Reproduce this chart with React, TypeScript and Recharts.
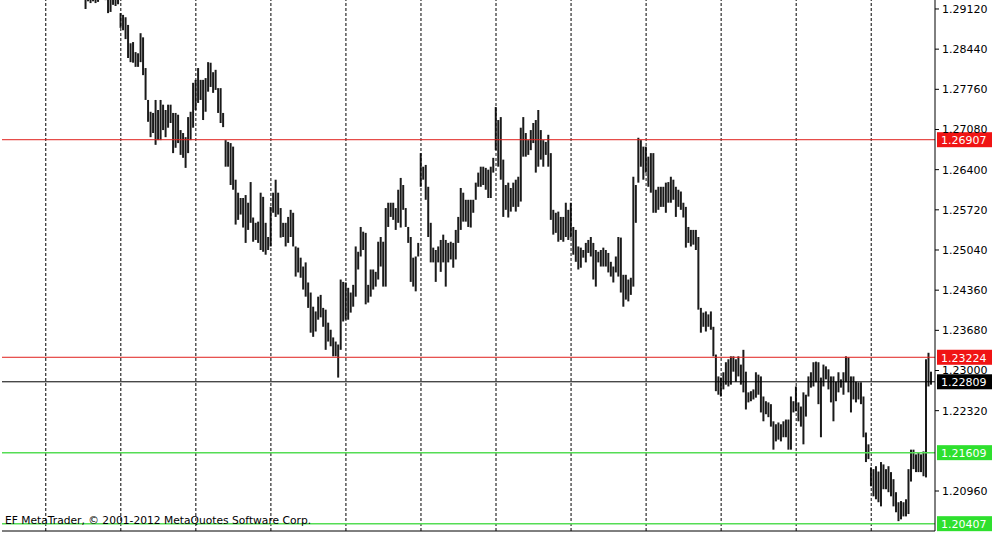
import React from "react";
import { ComposedChart, Bar, XAxis, YAxis, ReferenceLine } from "recharts";

// slot layout: 373 bar slots across the plot, first visible bar sits in slot 33
const slotCount = 373;
const firstBar = 33;

// bar highs, one per slot from slot 33 on
const highs = [
  1.2961, 1.2952, 1.2961, 1.2957, 1.2952, 1.2961, 1.2969, 1.2964, 1.2952, 1.2944,
  1.2941, 1.2947, 1.2944, 1.2941, 1.2905, 1.2902, 1.2898, 1.2885, 1.2854, 1.2856,
  1.2839, 1.2837, 1.2871, 1.2864, 1.2812, 1.2758, 1.2738, 1.2736, 1.2758, 1.2741,
  1.2758, 1.2750, 1.2741, 1.2750, 1.2750, 1.2736, 1.2736, 1.2733, 1.2707, 1.2702,
  1.2695, 1.2729, 1.2738, 1.2787, 1.2792, 1.2812, 1.2792, 1.2792, 1.2795, 1.2822,
  1.2821, 1.2805, 1.2809, 1.2778, 1.2778, 1.2736, 1.2690, 1.2687, 1.2685, 1.2679,
  1.2623, 1.2601, 1.2592, 1.2592, 1.2597, 1.2584, 1.2619, 1.2559, 1.2550, 1.2552,
  1.2601, 1.2594, 1.2550, 1.2526, 1.2577, 1.2601, 1.2623, 1.2601, 1.2575, 1.2550,
  1.2550, 1.2560, 1.2572, 1.2567, 1.2510, 1.2508, 1.2491, 1.2476, 1.2483, 1.2449,
  1.2432, 1.2408, 1.2400, 1.2425, 1.2428, 1.2406, 1.2403, 1.2381, 1.2369, 1.2356,
  1.2349, 1.2344, 1.2454, 1.2450, 1.2449, 1.2440, 1.2432, 1.2445, 1.2510, 1.2501,
  1.2543, 1.2535, 1.2533, 1.2445, 1.2471, 1.2471, 1.2467, 1.2518, 1.2526, 1.2518,
  1.2575, 1.2584, 1.2584, 1.2584, 1.2575, 1.2606, 1.2626, 1.2614, 1.2575, 1.2543,
  1.2526, 1.2491, 1.2493, 1.2516, 1.2668, 1.2645, 1.2648, 1.2611, 1.2550, 1.2508,
  1.2504, 1.2510, 1.2521, 1.2530, 1.2521, 1.2516, 1.2518, 1.2516, 1.2538, 1.2560,
  1.2609, 1.2601, 1.2589, 1.2589, 1.2589, 1.2589, 1.2618, 1.2635, 1.2645, 1.2645,
  1.2643, 1.2640, 1.2645, 1.2660, 1.2746, 1.2724, 1.2729, 1.2657, 1.2614, 1.2618,
  1.2609, 1.2618, 1.2623, 1.2628, 1.2711, 1.2729, 1.2702, 1.2690, 1.2707, 1.2719,
  1.2724, 1.2741, 1.2707, 1.2690, 1.2687, 1.2699, 1.2668, 1.2572, 1.2567, 1.2569,
  1.2560, 1.2560, 1.2584, 1.2572, 1.2584, 1.2543, 1.2538, 1.2510, 1.2508, 1.2504,
  1.2516, 1.2521, 1.2526, 1.2516, 1.2504, 1.2501, 1.2504, 1.2508, 1.2504, 1.2499,
  1.2484, 1.2476, 1.2493, 1.2526, 1.2525, 1.2462, 1.2462, 1.2454, 1.2457, 1.2628,
  1.2614, 1.2694, 1.2690, 1.2679, 1.2679, 1.2662, 1.2668, 1.2668, 1.2606, 1.2611,
  1.2611, 1.2611, 1.2618, 1.2619, 1.2628, 1.2623, 1.2611, 1.2606, 1.2603, 1.2584,
  1.2577, 1.2543, 1.2538, 1.2538, 1.2538, 1.2526, 1.2406, 1.2398, 1.2400, 1.2395,
  1.2400, 1.2374, 1.2327, 1.2290, 1.2288, 1.2297, 1.2314, 1.2319, 1.2324, 1.2324,
  1.2319, 1.2324, 1.2310, 1.2335, 1.2298, 1.2263, 1.2265, 1.2268, 1.2297, 1.2293,
  1.2290, 1.2256, 1.2248, 1.2246, 1.2243, 1.2214, 1.2209, 1.2212, 1.2209, 1.2214,
  1.2217, 1.2217, 1.2256, 1.2248, 1.2273, 1.2246, 1.2239, 1.2263, 1.2259, 1.2290,
  1.2297, 1.2314, 1.2315, 1.2314, 1.2288, 1.2310, 1.2307, 1.2302, 1.2290, 1.2290,
  1.2281, 1.2297, 1.2285, 1.2297, 1.2324, 1.2322, 1.2290, 1.2290, 1.2281, 1.2280,
  1.2280, 1.2256, 1.2195, 1.2175, 1.2136, 1.2133, 1.2138, 1.2129, 1.2145, 1.2141,
  1.2133, 1.2138, 1.2128, 1.2116, 1.2094, 1.2077, 1.2079, 1.2077, 1.2082, 1.2133,
  1.2166, 1.2166, 1.2158, 1.2161, 1.2158, 1.2163, 1.2319, 1.2330, 1.2298,
];

// bar lows, same slots
const lows = [
  1.2912, 1.2925, 1.2922, 1.2925, 1.2922, 1.2924, 1.2932, 1.2930, 1.2927, 1.2905,
  1.2907, 1.2919, 1.2917, 1.2920, 1.2880, 1.2876, 1.2861, 1.2829, 1.2822, 1.2821,
  1.2814, 1.2814, 1.2822, 1.2800, 1.2758, 1.2721, 1.2695, 1.2702, 1.2682, 1.2690,
  1.2690, 1.2707, 1.2695, 1.2711, 1.2719, 1.2668, 1.2677, 1.2685, 1.2665, 1.2660,
  1.2643, 1.2668, 1.2690, 1.2711, 1.2741, 1.2753, 1.2758, 1.2724, 1.2738, 1.2772,
  1.2780, 1.2770, 1.2775, 1.2736, 1.2719, 1.2712, 1.2645, 1.2645, 1.2614, 1.2606,
  1.2547, 1.2555, 1.2564, 1.2542, 1.2516, 1.2538, 1.2550, 1.2518, 1.2521, 1.2516,
  1.2504, 1.2501, 1.2496, 1.2504, 1.2510, 1.2567, 1.2560, 1.2564, 1.2525, 1.2526,
  1.2510, 1.2516, 1.2526, 1.2510, 1.2459, 1.2466, 1.2457, 1.2437, 1.2425, 1.2406,
  1.2364, 1.2357, 1.2366, 1.2386, 1.2390, 1.2374, 1.2335, 1.2349, 1.2341, 1.2324,
  1.2324, 1.2288, 1.2335, 1.2383, 1.2386, 1.2386, 1.2398, 1.2408, 1.2425, 1.2471,
  1.2493, 1.2504, 1.2412, 1.2415, 1.2425, 1.2437, 1.2442, 1.2454, 1.2476, 1.2442,
  1.2442, 1.2543, 1.2560, 1.2555, 1.2538, 1.2550, 1.2542, 1.2572, 1.2543, 1.2516,
  1.2450, 1.2442, 1.2434, 1.2493, 1.2611, 1.2623, 1.2589, 1.2526, 1.2483, 1.2483,
  1.2450, 1.2483, 1.2467, 1.2483, 1.2442, 1.2483, 1.2488, 1.2474, 1.2488, 1.2516,
  1.2538, 1.2552, 1.2552, 1.2543, 1.2542, 1.2567, 1.2589, 1.2611, 1.2611, 1.2614,
  1.2606, 1.2592, 1.2592, 1.2635, 1.2673, 1.2645, 1.2623, 1.2560, 1.2572, 1.2559,
  1.2569, 1.2577, 1.2569, 1.2577, 1.2586, 1.2662, 1.2662, 1.2665, 1.2673, 1.2685,
  1.2635, 1.2645, 1.2657, 1.2645, 1.2665, 1.2645, 1.2555, 1.2530, 1.2533, 1.2518,
  1.2521, 1.2518, 1.2526, 1.2521, 1.2525, 1.2496, 1.2484, 1.2471, 1.2474, 1.2491,
  1.2483, 1.2499, 1.2493, 1.2454, 1.2442, 1.2483, 1.2476, 1.2476, 1.2476, 1.2466,
  1.2459, 1.2449, 1.2466, 1.2459, 1.2432, 1.2408, 1.2420, 1.2417, 1.2428, 1.2442,
  1.2550, 1.2618, 1.2645, 1.2623, 1.2635, 1.2611, 1.2601, 1.2567, 1.2567, 1.2572,
  1.2577, 1.2577, 1.2567, 1.2584, 1.2584, 1.2589, 1.2560, 1.2577, 1.2572, 1.2559,
  1.2508, 1.2516, 1.2510, 1.2513, 1.2504, 1.2403, 1.2364, 1.2374, 1.2366, 1.2374,
  1.2369, 1.2324, 1.2265, 1.2259, 1.2256, 1.2268, 1.2276, 1.2273, 1.2276, 1.2298,
  1.2281, 1.2290, 1.2276, 1.2263, 1.2234, 1.2246, 1.2248, 1.2251, 1.2254, 1.2259,
  1.2229, 1.2214, 1.2226, 1.2221, 1.2205, 1.2166, 1.2180, 1.2183, 1.2180, 1.2187,
  1.2187, 1.2166, 1.2166, 1.2229, 1.2231, 1.2214, 1.2205, 1.2175, 1.2222, 1.2256,
  1.2271, 1.2273, 1.2280, 1.2243, 1.2187, 1.2273, 1.2285, 1.2268, 1.2246, 1.2214,
  1.2248, 1.2263, 1.2271, 1.2259, 1.2280, 1.2263, 1.2229, 1.2251, 1.2246, 1.2251,
  1.2243, 1.2187, 1.2145, 1.2150, 1.2104, 1.2087, 1.2082, 1.2077, 1.2070, 1.2099,
  1.2099, 1.2094, 1.2087, 1.2070, 1.2060, 1.2045, 1.2048, 1.2053, 1.2053, 1.2057,
  1.2112, 1.2133, 1.2128, 1.2128, 1.2128, 1.2121, 1.2119, 1.2273, 1.2276,
];

const priceTicks = [
  1.2912, 1.2844, 1.2776, 1.2708, 1.264, 1.2572, 1.2504, 1.2436, 1.2368, 1.23, 1.2232, 1.2096,
];
const priceDomain = [1.20283, 1.29272];

// vertical separators and time-axis tick slots
const gridSlots = [17, 47, 77, 107, 137, 167, 197, 227, 257, 287, 317, 347];
const timeTickSlots = [32, 64, 96, 128, 160, 192, 224, 256, 288, 320, 352];

// horizontal levels drawn on the chart
const levelPrices = [1.26907, 1.23224, 1.22809, 1.21609, 1.20407];
const levelKinds = ["res", "res", "last", "sup", "sup"];

const kindStyle: Record<string, { line: string; box: string; w: number }> = {
  res: { line: "#e0201c", box: "#f01414", w: 1 },
  last: { line: "#000000", box: "#000000", w: 1 },
  sup: { line: "#55dd55", box: "#2ee02e", w: 1.5 },
};

const font = "'DejaVu Sans', Tahoma, sans-serif";

const data = Array.from({ length: slotCount }, (_, i) => {
  const j = i - firstBar;
  return {
    i,
    range: j >= 0 && j < highs.length ? [lows[j], highs[j]] : null,
  };
});

const PriceTag = (props: any) => {
  const { viewBox, bg, text } = props;
  if (!viewBox) return null;
  const x = viewBox.x + viewBox.width + 2;
  const y = viewBox.y;
  return (
    <g>
      <rect x={x} y={y - 7.5} width={55} height={15} fill={bg} />
      <text x={x + 4} y={y + 4.5} fill="#fff" fontSize={11} fontFamily={font}>
        {text}
      </text>
    </g>
  );
};

export default function App() {
  return (
    <div style={{ position: "fixed", left: 0, top: 0, width: 1001, height: 538, background: "#fff" }}>
      <ComposedChart
        width={1001}
        height={538}
        data={data}
        margin={{ top: 0, right: 0, bottom: 0, left: 2 }}
        barCategoryGap={0}
      >
        <XAxis
          dataKey="i"
          type="category"
          height={7}
          ticks={timeTickSlots}
          interval={0}
          tick={false}
          tickSize={6}
          axisLine={{ stroke: "#000" }}
          tickLine={{ stroke: "#000" }}
        />
        <YAxis
          yAxisId="l"
          orientation="left"
          width={0}
          domain={priceDomain}
          allowDataOverflow
          tick={false}
          tickLine={false}
          axisLine={{ stroke: "#000" }}
        />
        <YAxis
          yAxisId="p"
          orientation="right"
          width={66}
          domain={priceDomain}
          allowDataOverflow
          ticks={priceTicks}
          interval={0}
          tickSize={4}
          tickMargin={3}
          tickFormatter={(v: number) => v.toFixed(5)}
          tick={{ fill: "#000", fontSize: 11, fontFamily: font }}
          axisLine={{ stroke: "#000" }}
          tickLine={{ stroke: "#000" }}
        />
        {gridSlots.map((s) => (
          <ReferenceLine
            key={`g${s}`}
            x={s}
            yAxisId="p"
            stroke="#000"
            strokeDasharray="3 2"
          />
        ))}
        <Bar
          dataKey="range"
          yAxisId="p"
          fill="#1a1a1a"
          barSize={2}
          isAnimationActive={false}
        />
        {levelPrices.map((p, k) => {
          const st = kindStyle[levelKinds[k]];
          return (
            <ReferenceLine
              key={`l${k}`}
              y={p}
              yAxisId="p"
              stroke={st.line}
              strokeWidth={st.w}
              label={<PriceTag bg={st.box} text={p.toFixed(5)} />}
            />
          );
        })}
      </ComposedChart>
      <div
        style={{
          position: "absolute",
          left: 5,
          top: 514,
          fontFamily: font,
          fontSize: 10.7,
          color: "#000",
          whiteSpace: "nowrap",
          lineHeight: "13px",
        }}
      >
        EF MetaTrader, © 2001-2012 MetaQuotes Software Corp.
      </div>
    </div>
  );
}
